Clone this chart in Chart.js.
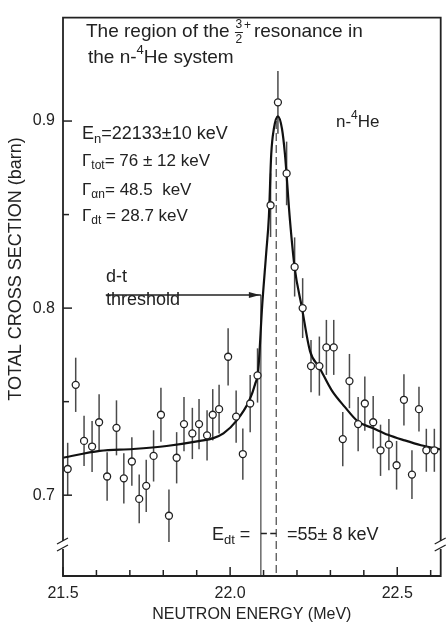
<!DOCTYPE html>
<html>
<head>
<meta charset="utf-8">
<script src="https://cdn.jsdelivr.net/npm/chart.js@4.4.1/dist/chart.umd.min.js"></script>
<style>
  html, body { margin: 0; padding: 0; background: #fff; }
  canvas { display: block; }
</style>
</head>
<body>
<canvas id="myChart" width="446" height="623"></canvas>
<script>
// measured total cross section (MeV, barn)
const energy = [21.514, 21.538, 21.563, 21.587, 21.608, 21.632, 21.660, 21.682, 21.706, 21.728, 21.749, 21.771,
  21.793, 21.817, 21.840, 21.862, 21.887, 21.907, 21.931, 21.948, 21.967, 21.994, 22.018, 22.038, 22.060, 22.082,
  22.121, 22.143, 22.169, 22.193, 22.217,
  22.242, 22.267, 22.288, 22.310, 22.337, 22.357, 22.383, 22.403, 22.428, 22.450, 22.475, 22.498, 22.520, 22.544,
  22.565, 22.587, 22.611]
const sigma = [0.714, 0.759, 0.729, 0.726, 0.739, 0.710, 0.736, 0.709, 0.718, 0.698, 0.705, 0.721,
  0.743, 0.689, 0.720, 0.738, 0.733, 0.738, 0.732, 0.743, 0.746, 0.774, 0.742, 0.722, 0.749, 0.764,
  0.855, 0.910, 0.872, 0.822, 0.800,
  0.769, 0.769, 0.779, 0.779, 0.730, 0.761, 0.738, 0.749, 0.739, 0.724, 0.727, 0.716, 0.751, 0.711,
  0.746, 0.724, 0.724]
const sigmaErr = [0.014, 0.0145, 0.0134, 0.0136, 0.015, 0.013, 0.0147, 0.0134, 0.013, 0.013, 0.014, 0.0137,
  0.0144, 0.014, 0.0137, 0.0145, 0.0137, 0.0134, 0.0134, 0.0137, 0.013, 0.0153, 0.014, 0.0137, 0.0153, 0.0145,
  0.017, 0.0168, 0.017, 0.0158, 0.016,
  0.014, 0.0158, 0.0147, 0.0147, 0.0145, 0.0145, 0.0145, 0.0145, 0.014, 0.0137, 0.0137, 0.013, 0.0137, 0.013,
  0.012, 0.0115, 0.0115]

// fitted resonance curve
const fitEnergy = [21.50, 21.61, 21.71, 21.81, 21.91, 21.95, 21.98, 22.02, 22.057, 22.075, 22.084, 22.096,
  22.108, 22.116, 22.123, 22.131, 22.143, 22.155, 22.164, 22.179, 22.193, 22.215, 22.239, 22.267, 22.304,
  22.343, 22.383, 22.428, 22.472, 22.522, 22.571, 22.63]
const fitSigma = [0.720, 0.7237, 0.7247, 0.7263, 0.729, 0.7305, 0.733, 0.740, 0.7505, 0.7595, 0.7665, 0.8016,
  0.8296, 0.849, 0.8823, 0.896, 0.9025, 0.896, 0.8823, 0.847, 0.8217, 0.800, 0.777, 0.7683, 0.756,
  0.7472, 0.7393, 0.7358, 0.7323, 0.7293, 0.7267, 0.7244]

const xTicks = [21.5, 21.6, 21.7, 21.8, 21.9, 22.0, 22.1, 22.2, 22.3, 22.4, 22.5, 22.6]
const xLabelled = [21.5, 22.0, 22.5]
const yTicks = [0.70, 0.75, 0.80, 0.85, 0.90]
const yLabelled = [0.7, 0.8, 0.9]

const thresholdE = 22.092   // d-t threshold
const resonanceE = 22.138   // resonance energy
const arrowStartE = 21.628
const arrowLevel = 0.807
const edtLevel = 0.6795

const ink = '#222'
const fontFamily = '"Liberation Sans", Arial, sans-serif'

function isIn(list, v) {
  return list.some(t => Math.abs(t - v) < 1e-6)
}

function rich(ctx, x, y, parts, size) {
  let cx = x
  parts.forEach(([t, kind]) => {
    const s = kind ? Math.round(size * 0.7) : size
    const dy = kind === 'sub' ? size * 0.3 : kind === 'sup' ? -size * 0.38 : 0
    ctx.font = s + 'px ' + fontFamily
    ctx.fillText(t, cx, y + dy)
    cx += ctx.measureText(t).width
  })
  return cx
}

const decorations = {
  id: 'decorations',
  beforeDatasetsDraw(chart) {
    const { ctx, chartArea: a, scales: { x, y } } = chart
    ctx.save()

    // error bars
    ctx.strokeStyle = '#4a4a4a'
    ctx.lineWidth = 1.5
    energy.forEach((e, i) => {
      const px = x.getPixelForValue(e)
      ctx.beginPath()
      ctx.moveTo(px, y.getPixelForValue(sigma[i] - sigmaErr[i]))
      ctx.lineTo(px, y.getPixelForValue(sigma[i] + sigmaErr[i]))
      ctx.stroke()
    })

    const xt = x.getPixelForValue(thresholdE)
    const xr = x.getPixelForValue(resonanceE)
    const ya = y.getPixelForValue(arrowLevel)

    // threshold (solid) and resonance (dashed) lines
    ctx.strokeStyle = '#333'
    ctx.lineWidth = 1.1
    ctx.beginPath()
    ctx.moveTo(xt, ya)
    ctx.lineTo(xt, a.bottom)
    ctx.stroke()
    ctx.setLineDash([8, 4])
    ctx.strokeStyle = '#555'
    ctx.lineWidth = 1.3
    ctx.beginPath()
    ctx.moveTo(xr, y.getPixelForValue(0.9))
    ctx.lineTo(xr, a.bottom)
    ctx.stroke()
    ctx.setLineDash([])

    // threshold arrow
    ctx.strokeStyle = ink
    ctx.fillStyle = ink
    ctx.lineWidth = 1.3
    ctx.beginPath()
    ctx.moveTo(x.getPixelForValue(arrowStartE), ya)
    ctx.lineTo(xt, ya)
    ctx.stroke()
    ctx.beginPath()
    ctx.moveTo(xt - 1, ya)
    ctx.lineTo(xt - 12, ya - 3)
    ctx.lineTo(xt - 12, ya + 3)
    ctx.closePath()
    ctx.fill()

    // E_dt marker between the two lines
    const ye = y.getPixelForValue(edtLevel)
    ctx.lineWidth = 1.4
    ctx.beginPath()
    ctx.moveTo(xt, ye); ctx.lineTo(xt + 6, ye)
    ctx.moveTo(xr - 6, ye); ctx.lineTo(xr, ye)
    ctx.stroke()
    ctx.restore()
  },
  afterDraw(chart) {
    const { ctx, chartArea: a, scales: { x, y } } = chart
    ctx.save()
    ctx.strokeStyle = ink
    ctx.fillStyle = ink
    ctx.lineWidth = 1.8

    // frame with axis breaks near the bottom
    const b1 = 541, b2 = 549
    ctx.beginPath()
    ctx.moveTo(a.left, b1); ctx.lineTo(a.left, a.top); ctx.lineTo(a.right, a.top); ctx.lineTo(a.right, b1)
    ctx.moveTo(a.left, b2); ctx.lineTo(a.left, a.bottom); ctx.lineTo(a.right, a.bottom); ctx.lineTo(a.right, b2)
    ctx.stroke()
    ctx.lineWidth = 1.3
    ;[a.left, a.right].forEach(ax => {
      ctx.beginPath()
      ctx.moveTo(ax - 6, b1 + 3); ctx.lineTo(ax + 5, b1 - 3)
      ctx.moveTo(ax - 6, b2 + 2); ctx.lineTo(ax + 5, b2 - 4)
      ctx.stroke()
    })

    // inward ticks
    ctx.lineWidth = 1.5
    xTicks.forEach(v => {
      const px = x.getPixelForValue(v)
      const len = isIn(xLabelled, v) ? 9 : 6
      ctx.beginPath()
      ctx.moveTo(px, a.bottom)
      ctx.lineTo(px, a.bottom - len)
      ctx.stroke()
    })
    yTicks.forEach(v => {
      const py = y.getPixelForValue(v)
      const len = isIn(yLabelled, v) ? 9 : 6
      ctx.beginPath()
      ctx.moveTo(a.left, py)
      ctx.lineTo(a.left + len, py)
      ctx.stroke()
    })

    // y axis title
    ctx.save()
    ctx.translate(16, 269)
    ctx.rotate(-Math.PI / 2)
    ctx.font = '18px ' + fontFamily
    ctx.textAlign = 'center'
    ctx.textBaseline = 'middle'
    ctx.fillText('TOTAL CROSS SECTION (barn)', 0, 0)
    ctx.restore()

    // annotations
    ctx.textBaseline = 'middle'
    ctx.textAlign = 'left'
    let cx = rich(ctx, 86, 32, [['The region of the ']], 19)
    ctx.font = '12px ' + fontFamily
    ctx.textAlign = 'center'
    ctx.fillText('3', cx + 4, 25)
    ctx.fillText('2', cx + 4, 40)
    ctx.lineWidth = 1
    ctx.beginPath(); ctx.moveTo(cx, 32.5); ctx.lineTo(cx + 8, 32.5); ctx.stroke()
    ctx.textAlign = 'left'
    ctx.fillText('+', cx + 9, 26)
    rich(ctx, cx + 19, 32, [['resonance in']], 19)
    rich(ctx, 88, 58, [['the n-'], ['4', 'sup'], ['He system']], 19)
    rich(ctx, 336, 122, [['n-'], ['4', 'sup'], ['He']], 17)

    rich(ctx, 82, 134, [['E'], ['n', 'sub'], ['=22133\u00b110 keV']], 18)
    rich(ctx, 82, 161, [['\u0393'], ['tot', 'sub'], ['= 76 \u00b1 12 keV']], 17)
    rich(ctx, 82, 190, [['\u0393'], ['\u03b1n', 'sub'], ['= 48.5  keV']], 17)
    rich(ctx, 82, 216, [['\u0393'], ['dt', 'sub'], [' = 28.7 keV']], 17)

    rich(ctx, 106, 277, [['d-t']], 18)
    rich(ctx, 106, 300, [['threshold']], 18)

    rich(ctx, 212, 535, [['E'], ['dt', 'sub'], [' =']], 18)
    rich(ctx, 287, 535, [['=55\u00b1 8 keV']], 18)
    ctx.restore()
  }
}

const el = document.getElementById('myChart')

const config = {
  type: 'line',
  data: {
    datasets: [{
      label: 'measured',
      data: energy.map((e, i) => ({ x: e, y: sigma[i] })),
      showLine: false,
      pointRadius: 3.5,
      pointBackgroundColor: '#fff',
      pointBorderColor: '#222',
      pointBorderWidth: 1.3,
      order: 0
    }, {
      label: 'fit',
      data: fitEnergy.map((e, i) => ({ x: e, y: fitSigma[i] })),
      borderColor: '#111',
      borderWidth: 2.2,
      pointRadius: 0,
      cubicInterpolationMode: 'monotone',
      fill: false,
      order: 1
    }]
  },
  options: {
    responsive: false,
    animation: false,
    layout: { padding: { top: 8, right: 3, left: 0, bottom: 0 } },
    plugins: {
      legend: { display: false },
      tooltip: { enabled: false }
    },
    scales: {
      x: {
        type: 'linear',
        min: 21.5,
        max: 22.63,
        afterBuildTicks: s => { s.ticks = xTicks.map(v => ({ value: v })) },
        afterFit: s => { s.height = 47 },
        grid: { display: false, drawTicks: false },
        border: { display: false },
        ticks: {
          autoSkip: false,
          maxRotation: 0,
          padding: 8,
          color: ink,
          font: { family: fontFamily, size: 16 },
          callback: v => isIn(xLabelled, v) ? v.toFixed(1) : ''
        },
        title: {
          display: true,
          text: 'NEUTRON ENERGY (MeV)',
          color: ink,
          font: { family: fontFamily, size: 16, lineHeight: 1 },
          padding: { top: 0, bottom: 0 }
        }
      },
      y: {
        min: 0.6568,
        max: 0.9553,
        afterBuildTicks: s => { s.ticks = yTicks.map(v => ({ value: v })) },
        afterFit: s => { s.width = 63 },
        grid: { display: false, drawTicks: false },
        border: { display: false },
        ticks: {
          padding: 8,
          color: ink,
          font: { family: fontFamily, size: 16 },
          callback: v => isIn(yLabelled, v) ? v.toFixed(1) : ''
        }
      }
    }
  },
  plugins: [decorations]
}

const myChart = new Chart(el, config)
</script>
</body>
</html>
